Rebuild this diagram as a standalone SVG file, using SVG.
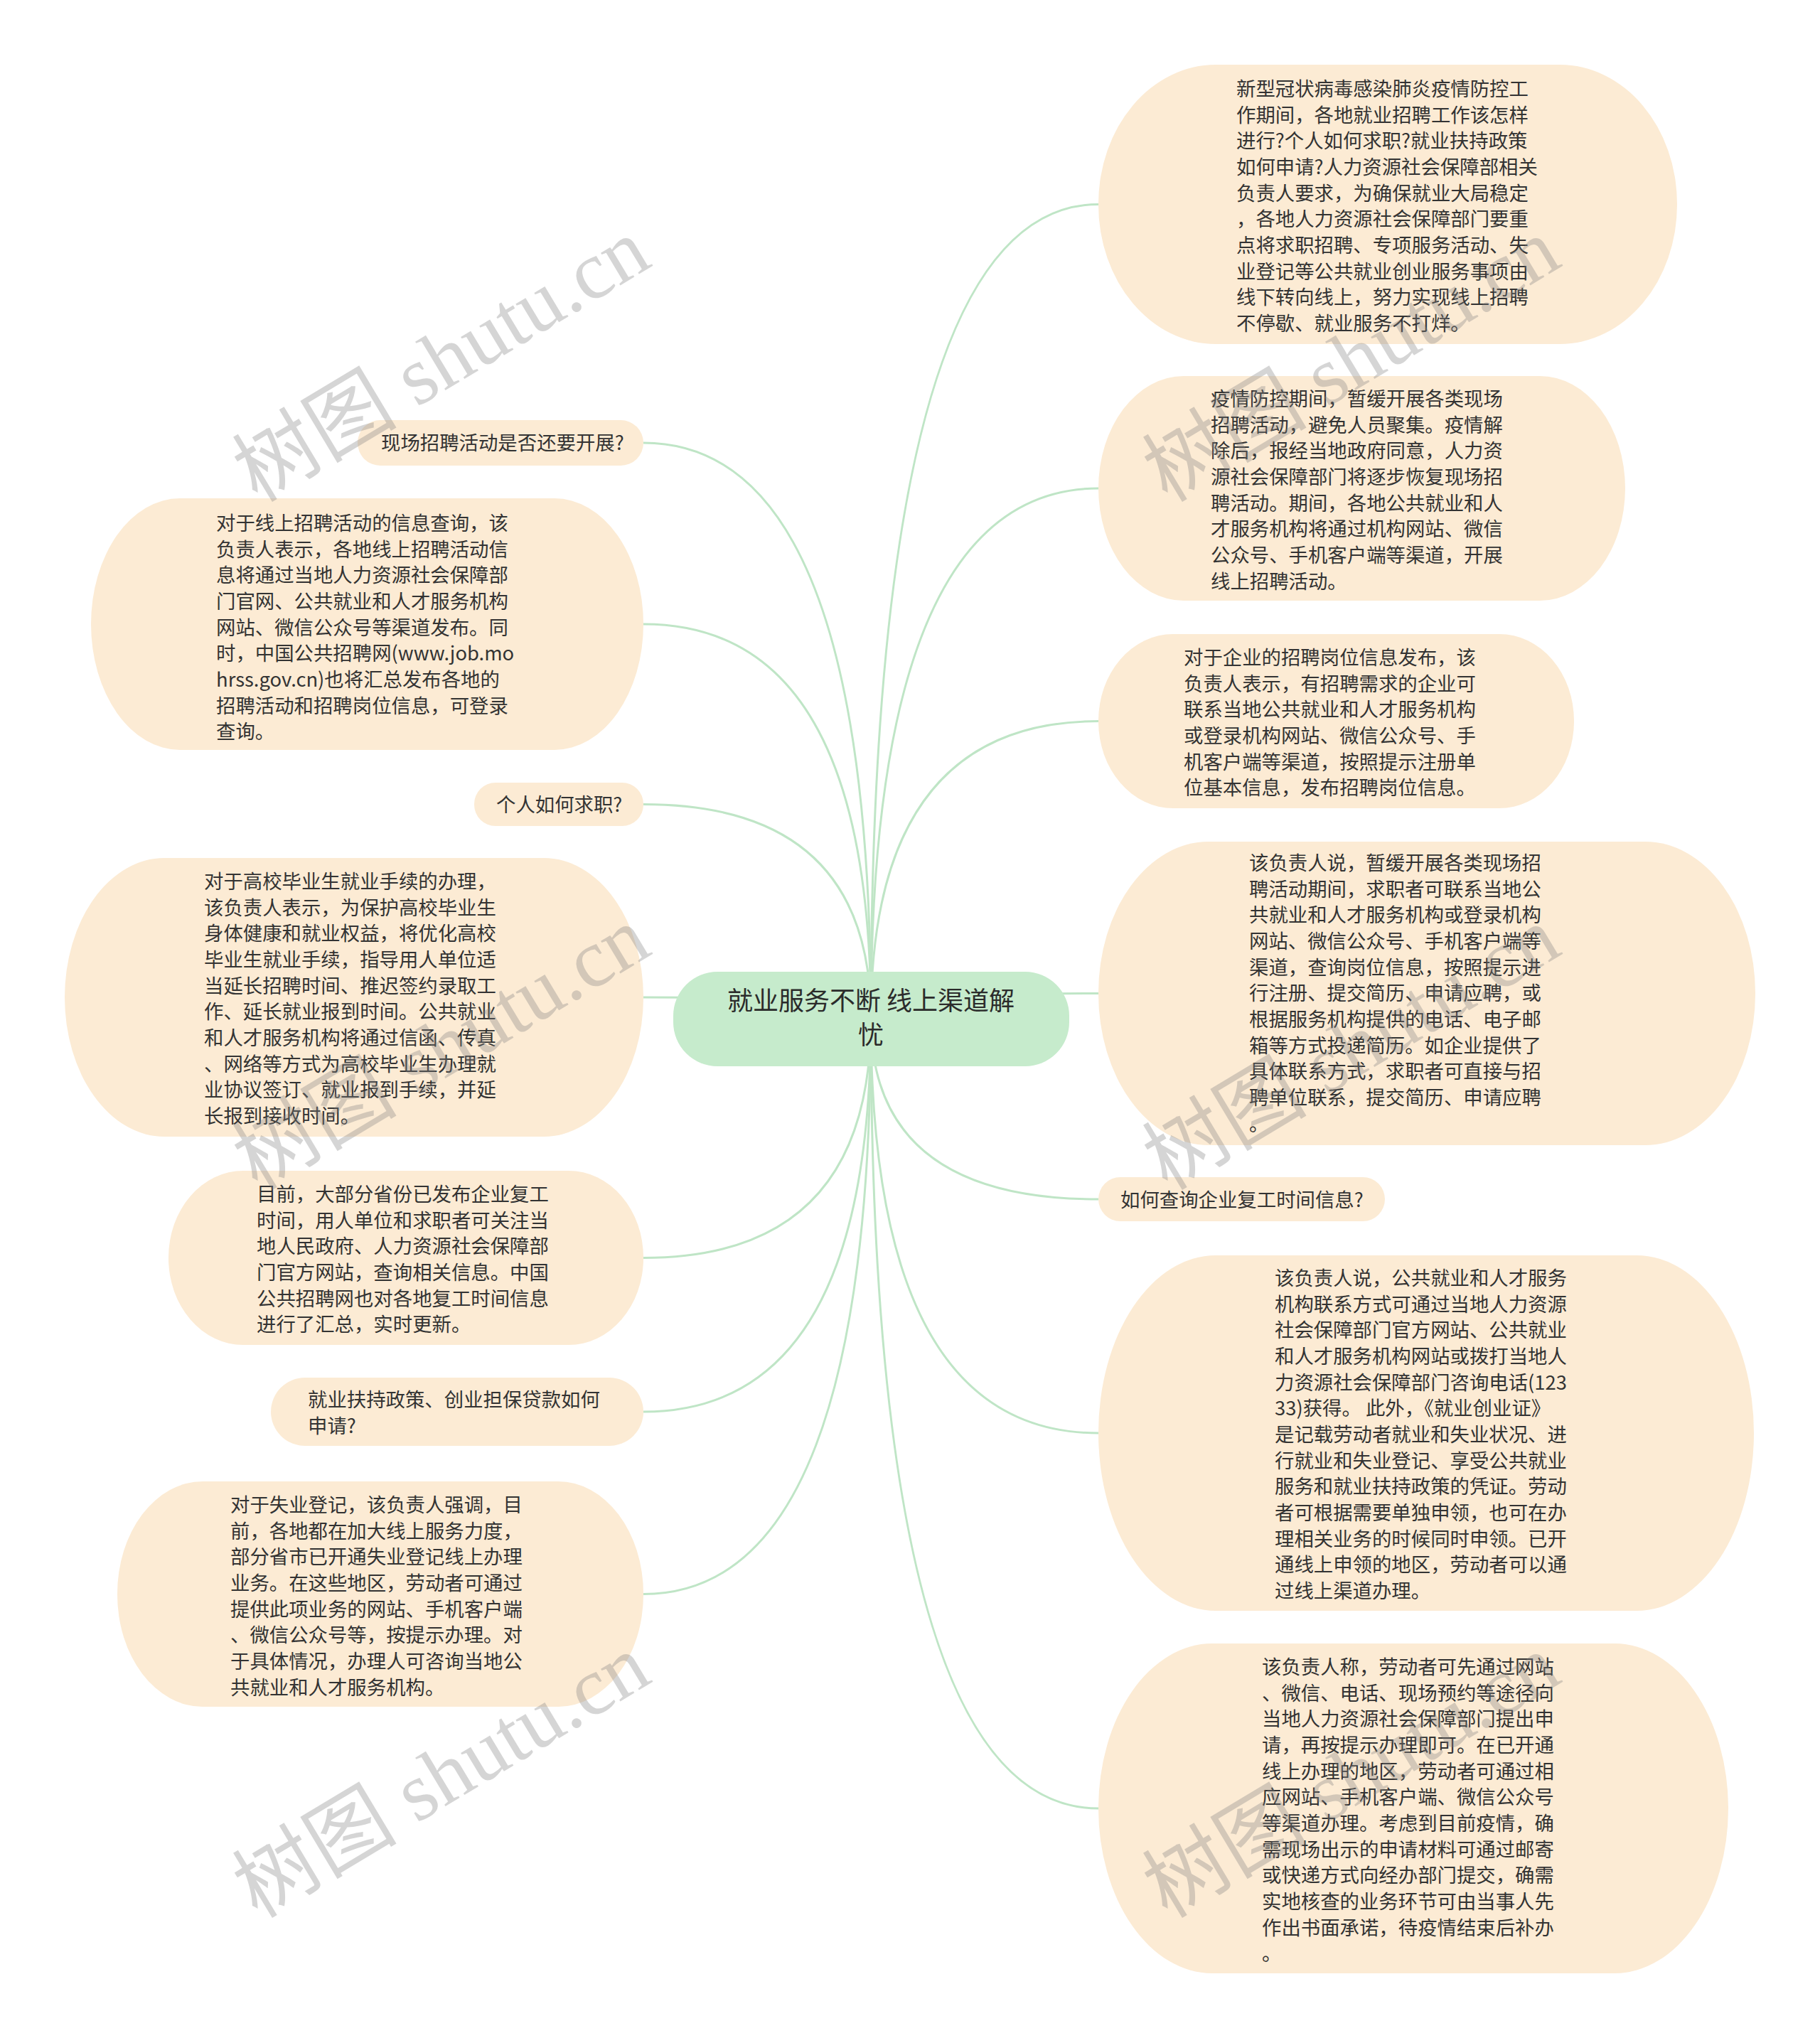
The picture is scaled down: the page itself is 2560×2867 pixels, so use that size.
<svg xmlns="http://www.w3.org/2000/svg" width="2560" height="2867" viewBox="0 0 2560 2867">
<style>
.bg{fill:#ffffff}
.node{fill:#fcebd4}
.root{fill:#c6ebcc}
.link{fill:none;stroke:#bfe5c6;stroke-width:3}
.t{font-family:"Noto Sans CJK SC","Noto Sans",sans-serif;font-size:27.4px;fill:#333333}
.rt{font-family:"Noto Sans CJK SC","Noto Sans",sans-serif;font-size:36px;fill:#2b2b2b;text-anchor:middle}
.wm{font-family:"Liberation Serif","Noto Sans CJK SC",serif;font-size:116px;fill:#808080;fill-opacity:0.33}
</style>
<rect class="bg" x="0" y="0" width="2560" height="2867"/>
<g id="connectors">
<path class="link" d="M1225 1433 Q1225 287.5 1545 287.5"/>
<path class="link" d="M1225 1433 Q1225 687 1545 687"/>
<path class="link" d="M1225 1433 Q1225 1014.5 1545 1014.5"/>
<path class="link" d="M1225 1433 Q1225 1397.5 1545 1397.5"/>
<path class="link" d="M1225 1433 Q1225 1687 1545 1687"/>
<path class="link" d="M1225 1433 Q1225 2016 1545 2016"/>
<path class="link" d="M1225 1433 Q1225 2544 1545 2544"/>
<path class="link" d="M1225 1433 Q1225 623 905 623"/>
<path class="link" d="M1225 1433 Q1225 878 905 878"/>
<path class="link" d="M1225 1433 Q1225 1131.5 905 1131.5"/>
<path class="link" d="M1225 1433 Q1225 1403 905 1403"/>
<path class="link" d="M1225 1433 Q1225 1769.5 905 1769.5"/>
<path class="link" d="M1225 1433 Q1225 1986 905 1986"/>
<path class="link" d="M1225 1433 Q1225 2242.5 905 2242.5"/>
</g>
<g id="root">
<rect class="root" x="947" y="1367" width="557" height="133" rx="62" ry="62"/>
<text class="rt"><tspan x="1225" y="1421">就业服务不断 线上渠道解</tspan><tspan x="1225" y="1469">忧</tspan></text>
</g>
<g id="r1">
<rect class="node" x="1545" y="91" width="814" height="393" rx="165" ry="196"/>
<text class="t">
<tspan x="1739" y="135">新型冠状病毒感染肺炎疫情防控工</tspan>
<tspan x="1739" y="171.7">作期间，各地就业招聘工作该怎样</tspan>
<tspan x="1739" y="208.3">进行?个人如何求职?就业扶持政策</tspan>
<tspan x="1739" y="245">如何申请?人力资源社会保障部相关</tspan>
<tspan x="1739" y="281.7">负责人要求，为确保就业大局稳定</tspan>
<tspan x="1739" y="318.3">，各地人力资源社会保障部门要重</tspan>
<tspan x="1739" y="355">点将求职招聘、专项服务活动、失</tspan>
<tspan x="1739" y="391.7">业登记等公共就业创业服务事项由</tspan>
<tspan x="1739" y="428.3">线下转向线上，努力实现线上招聘</tspan>
<tspan x="1739" y="465">不停歇、就业服务不打烊。</tspan>
</text>
</g>
<g id="r2">
<rect class="node" x="1545" y="529" width="741" height="316" rx="120" ry="158"/>
<text class="t">
<tspan x="1703" y="571">疫情防控期间，暂缓开展各类现场</tspan>
<tspan x="1703" y="607.7">招聘活动，避免人员聚集。疫情解</tspan>
<tspan x="1703" y="644.3">除后，报经当地政府同意，人力资</tspan>
<tspan x="1703" y="681">源社会保障部门将逐步恢复现场招</tspan>
<tspan x="1703" y="717.7">聘活动。期间，各地公共就业和人</tspan>
<tspan x="1703" y="754.3">才服务机构将通过机构网站、微信</tspan>
<tspan x="1703" y="791">公众号、手机客户端等渠道，开展</tspan>
<tspan x="1703" y="827.7">线上招聘活动。</tspan>
</text>
</g>
<g id="r3">
<rect class="node" x="1545" y="892" width="669" height="245" rx="105" ry="122"/>
<text class="t">
<tspan x="1665" y="935">对于企业的招聘岗位信息发布，该</tspan>
<tspan x="1665" y="971.7">负责人表示，有招聘需求的企业可</tspan>
<tspan x="1665" y="1008.3">联系当地公共就业和人才服务机构</tspan>
<tspan x="1665" y="1045">或登录机构网站、微信公众号、手</tspan>
<tspan x="1665" y="1081.7">机客户端等渠道，按照提示注册单</tspan>
<tspan x="1665" y="1118.3">位基本信息，发布招聘岗位信息。</tspan>
</text>
</g>
<g id="r4">
<rect class="node" x="1545" y="1184" width="924" height="427" rx="155" ry="213"/>
<text class="t">
<tspan x="1757" y="1224">该负责人说，暂缓开展各类现场招</tspan>
<tspan x="1757" y="1260.7">聘活动期间，求职者可联系当地公</tspan>
<tspan x="1757" y="1297.3">共就业和人才服务机构或登录机构</tspan>
<tspan x="1757" y="1334">网站、微信公众号、手机客户端等</tspan>
<tspan x="1757" y="1370.7">渠道，查询岗位信息，按照提示进</tspan>
<tspan x="1757" y="1407.3">行注册、提交简历、申请应聘，或</tspan>
<tspan x="1757" y="1444">根据服务机构提供的电话、电子邮</tspan>
<tspan x="1757" y="1480.7">箱等方式投递简历。如企业提供了</tspan>
<tspan x="1757" y="1517.3">具体联系方式，求职者可直接与招</tspan>
<tspan x="1757" y="1554">聘单位联系，提交简历、申请应聘</tspan>
<tspan x="1757" y="1590.7">。</tspan>
</text>
</g>
<g id="r5">
<rect class="node" x="1545" y="1656" width="403" height="62" rx="31" ry="31"/>
<text class="t"><tspan x="1576" y="1698">如何查询企业复工时间信息?</tspan></text>
</g>
<g id="r6">
<rect class="node" x="1545" y="1766" width="922" height="500" rx="165" ry="250"/>
<text class="t">
<tspan x="1793" y="1808">该负责人说，公共就业和人才服务</tspan>
<tspan x="1793" y="1844.7">机构联系方式可通过当地人力资源</tspan>
<tspan x="1793" y="1881.3">社会保障部门官方网站、公共就业</tspan>
<tspan x="1793" y="1918">和人才服务机构网站或拨打当地人</tspan>
<tspan x="1793" y="1954.7">力资源社会保障部门咨询电话(123</tspan>
<tspan x="1793" y="1991.3">33)获得。 此外，《就业创业证》</tspan>
<tspan x="1793" y="2028">是记载劳动者就业和失业状况、进</tspan>
<tspan x="1793" y="2064.7">行就业和失业登记、享受公共就业</tspan>
<tspan x="1793" y="2101.3">服务和就业扶持政策的凭证。劳动</tspan>
<tspan x="1793" y="2138">者可根据需要单独申领，也可在办</tspan>
<tspan x="1793" y="2174.7">理相关业务的时候同时申领。已开</tspan>
<tspan x="1793" y="2211.3">通线上申领的地区，劳动者可以通</tspan>
<tspan x="1793" y="2248">过线上渠道办理。</tspan>
</text>
</g>
<g id="r7">
<rect class="node" x="1545" y="2312" width="886" height="464" rx="160" ry="232"/>
<text class="t">
<tspan x="1775" y="2355">该负责人称，劳动者可先通过网站</tspan>
<tspan x="1775" y="2391.7">、微信、电话、现场预约等途径向</tspan>
<tspan x="1775" y="2428.3">当地人力资源社会保障部门提出申</tspan>
<tspan x="1775" y="2465">请，再按提示办理即可。在已开通</tspan>
<tspan x="1775" y="2501.7">线上办理的地区，劳动者可通过相</tspan>
<tspan x="1775" y="2538.3">应网站、手机客户端、微信公众号</tspan>
<tspan x="1775" y="2575">等渠道办理。考虑到目前疫情，确</tspan>
<tspan x="1775" y="2611.7">需现场出示的申请材料可通过邮寄</tspan>
<tspan x="1775" y="2648.3">或快递方式向经办部门提交，确需</tspan>
<tspan x="1775" y="2685">实地核查的业务环节可由当事人先</tspan>
<tspan x="1775" y="2721.7">作出书面承诺，待疫情结束后补办</tspan>
<tspan x="1775" y="2758.3">。</tspan>
</text>
</g>
<g id="l1">
<rect class="node" x="503" y="591" width="402" height="64" rx="32" ry="32"/>
<text class="t"><tspan x="536" y="633">现场招聘活动是否还要开展?</tspan></text>
</g>
<g id="l2">
<rect class="node" x="128" y="701" width="777" height="354" rx="125" ry="177"/>
<text class="t">
<tspan x="304" y="746">对于线上招聘活动的信息查询，该</tspan>
<tspan x="304" y="782.7">负责人表示，各地线上招聘活动信</tspan>
<tspan x="304" y="819.3">息将通过当地人力资源社会保障部</tspan>
<tspan x="304" y="856">门官网、公共就业和人才服务机构</tspan>
<tspan x="304" y="892.7">网站、微信公众号等渠道发布。同</tspan>
<tspan x="304" y="929.3">时，中国公共招聘网(www.job.mo</tspan>
<tspan x="304" y="966">hrss.gov.cn)也将汇总发布各地的</tspan>
<tspan x="304" y="1002.7">招聘活动和招聘岗位信息，可登录</tspan>
<tspan x="304" y="1039.3">查询。</tspan>
</text>
</g>
<g id="l3">
<rect class="node" x="667" y="1101" width="238" height="61" rx="30" ry="30"/>
<text class="t"><tspan x="698" y="1142">个人如何求职?</tspan></text>
</g>
<g id="l4">
<rect class="node" x="91" y="1207" width="814" height="392" rx="140" ry="196"/>
<text class="t">
<tspan x="287" y="1250">对于高校毕业生就业手续的办理，</tspan>
<tspan x="287" y="1286.7">该负责人表示，为保护高校毕业生</tspan>
<tspan x="287" y="1323.3">身体健康和就业权益，将优化高校</tspan>
<tspan x="287" y="1360">毕业生就业手续，指导用人单位适</tspan>
<tspan x="287" y="1396.7">当延长招聘时间、推迟签约录取工</tspan>
<tspan x="287" y="1433.3">作、延长就业报到时间。公共就业</tspan>
<tspan x="287" y="1470">和人才服务机构将通过信函、传真</tspan>
<tspan x="287" y="1506.7">、网络等方式为高校毕业生办理就</tspan>
<tspan x="287" y="1543.3">业协议签订、就业报到手续，并延</tspan>
<tspan x="287" y="1580">长报到接收时间。</tspan>
</text>
</g>
<g id="l5">
<rect class="node" x="237" y="1647" width="668" height="245" rx="105" ry="122"/>
<text class="t">
<tspan x="361" y="1690">目前，大部分省份已发布企业复工</tspan>
<tspan x="361" y="1726.7">时间，用人单位和求职者可关注当</tspan>
<tspan x="361" y="1763.3">地人民政府、人力资源社会保障部</tspan>
<tspan x="361" y="1800">门官方网站，查询相关信息。中国</tspan>
<tspan x="361" y="1836.7">公共招聘网也对各地复工时间信息</tspan>
<tspan x="361" y="1873.3">进行了汇总，实时更新。</tspan>
</text>
</g>
<g id="l6">
<rect class="node" x="381" y="1938" width="524" height="96" rx="48" ry="48"/>
<text class="t">
<tspan x="433" y="1979">就业扶持政策、创业担保贷款如何</tspan>
<tspan x="433" y="2015.7">申请?</tspan>
</text>
</g>
<g id="l7">
<rect class="node" x="165" y="2084" width="740" height="317" rx="120" ry="158"/>
<text class="t">
<tspan x="324" y="2127">对于失业登记，该负责人强调，目</tspan>
<tspan x="324" y="2163.7">前，各地都在加大线上服务力度，</tspan>
<tspan x="324" y="2200.3">部分省市已开通失业登记线上办理</tspan>
<tspan x="324" y="2237">业务。在这些地区，劳动者可通过</tspan>
<tspan x="324" y="2273.7">提供此项业务的网站、手机客户端</tspan>
<tspan x="324" y="2310.3">、微信公众号等，按提示办理。对</tspan>
<tspan x="324" y="2347">于具体情况，办理人可咨询当地公</tspan>
<tspan x="324" y="2383.7">共就业和人才服务机构。</tspan>
</text>
</g>
<g id="watermarks">
<text class="wm" transform="translate(362 708) rotate(-31)">树图 shutu.cn</text>
<text class="wm" transform="translate(1642 708) rotate(-31)">树图 shutu.cn</text>
<text class="wm" transform="translate(362 1676) rotate(-31)">树图 shutu.cn</text>
<text class="wm" transform="translate(1642 1676) rotate(-31)">树图 shutu.cn</text>
<text class="wm" transform="translate(362 2700) rotate(-31)">树图 shutu.cn</text>
<text class="wm" transform="translate(1642 2700) rotate(-31)">树图 shutu.cn</text>
</g>
</svg>
